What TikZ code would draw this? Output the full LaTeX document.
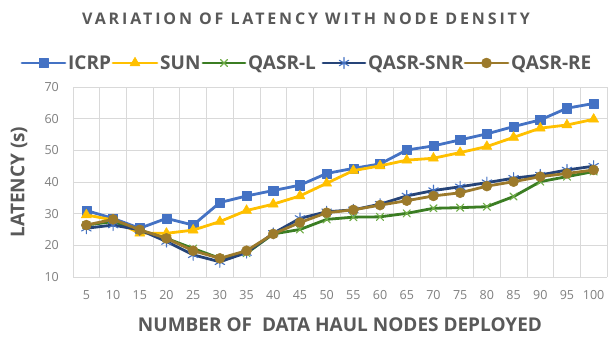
\documentclass[tikz,border=0pt]{standalone}
\usepackage{fontspec}
\setmainfont{Open Sans}
\newfontfamily\titlefont[LetterSpace=18]{Open Sans}
\usetikzlibrary{plotmarks}
\definecolor{icrp}{HTML}{4472C4}
\definecolor{sun}{HTML}{FFC000}
\definecolor{qlline}{HTML}{3B7D23}
\definecolor{qlmark}{HTML}{70AD47}
\definecolor{snrline}{HTML}{264478}
\definecolor{snrmark}{HTML}{4472C4}
\definecolor{reline}{HTML}{9C7A2B}
\definecolor{gridc}{HTML}{D9D9D9}
\definecolor{txtdark}{HTML}{595959}
\definecolor{txtlight}{HTML}{7F7F7F}
\tikzset{
  gridline/.style={draw=gridc, line width=0.8pt},
  ticklab/.style={font=\fontsize{12.5}{14}\selectfont, text=txtlight, inner sep=0pt},
  axtitle/.style={font=\fontsize{19}{22}\selectfont\bfseries, text=txtdark, inner sep=0pt},
  legtext/.style={font=\fontsize{19}{22}\selectfont\bfseries, text=txtdark, inner sep=0pt, anchor=base west},
  serie/.style={line width=2.8pt, line join=round, line cap=round},
  sicrp/.style={serie, draw=icrp, mark=square*, mark size=4.6pt, mark options={solid, fill=icrp, draw=icrp, line width=0.5pt}},
  ssun/.style={serie, draw=sun, mark=triangle*, mark size=5.8pt, mark options={solid, fill=sun, draw=sun, line width=0.5pt}},
  sql/.style={serie, draw=qlline, mark=x, mark size=5pt, mark options={solid, draw=qlmark, line width=1.1pt}},
  ssnr/.style={serie, draw=snrline, mark=asterisk, mark size=5.5pt, mark options={solid, draw=snrmark, line width=1.1pt}},
  sre/.style={serie, draw=reline, mark=*, mark size=5pt, mark options={solid, fill=reline, draw=reline, line width=0.5pt}},
}
\begin{document}
\begin{tikzpicture}[x=1pt,y=1pt]
\useasboundingbox (0,0) rectangle (613,338);
\fill[white] (0,0) rectangle (613,338);
% title
\node[font=\fontsize{16}{19}\selectfont\titlefont\bfseries, text=txtdark, anchor=base, inner sep=0pt] (title) at (306,313) {VARIATION OF LATENCY WITH NODE DENSITY};
% legend
\coordinate (l1a) at (22,275); \coordinate (l1b) at (65,275); \coordinate (l1m) at (43.5,275);
\draw[sicrp] (l1a) -- (l1b); \draw[sicrp] plot coordinates {(l1m)};
\node[legtext] (t1) at (68,268) {ICRP};
\coordinate (l2a) at (113,275); \coordinate (l2b) at (157,275); \coordinate (l2m) at (135,275);
\draw[ssun] (l2a) -- (l2b); \draw[ssun] plot coordinates {(l2m)};
\node[legtext] (t2) at (160,268) {SUN};
\coordinate (l3a) at (203,275); \coordinate (l3b) at (245,275); \coordinate (l3m) at (224,275);
\draw[sql] (l3a) -- (l3b); \draw[sql] plot coordinates {(l3m)};
\node[legtext] (t3) at (248,268) {QASR-L};
\coordinate (l4a) at (323,275); \coordinate (l4b) at (365,275); \coordinate (l4m) at (344,275);
\draw[ssnr] (l4a) -- (l4b); \draw[ssnr] plot coordinates {(l4m)};
\node[legtext] (t4) at (368,268) {QASR-SNR};
\coordinate (l5a) at (465,275); \coordinate (l5b) at (508,275); \coordinate (l5m) at (486.5,275);
\draw[sre] (l5a) -- (l5b); \draw[sre] plot coordinates {(l5m)};
\node[legtext] (t5) at (511,268) {QASR-RE};
% axis titles
\node[axtitle] (xt) at (340,13) {NUMBER OF \ DATA HAUL NODES DEPLOYED};
\node[axtitle, rotate=90] (yt) at (19,156) {LATENCY (s)};
\begin{scope}[x=26.7pt, y=3.1667pt, shift={(59.65pt,29.33pt)}]
  \foreach \v in {10,20,...,70} {
    \draw[gridline] (0.5,\v) -- (20.5,\v);
    \node[ticklab, anchor=east] (y\v) at ([xshift=-14pt]0.5,\v) {\v};
  }
  \foreach \i in {0,...,20} { \draw[gridline] (\i+0.5,10) -- (\i+0.5,70); }
  \foreach \i [evaluate=\i as \lab using int(5*\i)] in {1,...,20} {
    \node[ticklab] (x\i) at ([yshift=-18pt]\i,10) {\lab};
  }
  \draw[sicrp] plot coordinates {(1,31) (2,28.5) (3,25.4) (4,28.5) (5,26.4) (6,33.5) (7,35.6) (8,37.3) (9,39) (10,42.7) (11,44.3) (12,45.7) (13,50.1) (14,51.4) (15,53.3) (16,55.2) (17,57.5) (18,59.6) (19,63.3) (20,64.8)};
  \draw[ssun] plot coordinates {(1,29.6) (2,28) (3,23.8) (4,23.8) (5,24.8) (6,27.5) (7,31) (8,33) (9,35.6) (10,39.6) (11,43.6) (12,45.1) (13,46.9) (14,47.5) (15,49.3) (16,51.2) (17,54.1) (18,57) (19,58) (20,59.8)};
  \draw[sql] plot coordinates {(1,26.4) (2,27.5) (3,24.8) (4,22.2) (5,19) (6,15.9) (7,17.5) (8,23.6) (9,25) (10,28.2) (11,28.9) (12,29) (13,30.1) (14,31.7) (15,31.9) (16,32.2) (17,35.4) (18,40.1) (19,41.7) (20,43.3)};
  \draw[ssnr] plot coordinates {(1,25.4) (2,26.4) (3,24.9) (4,21.2) (5,17) (6,14.8) (7,17.7) (8,23.8) (9,28.5) (10,30.6) (11,31.2) (12,33) (13,35.6) (14,37.3) (15,38.5) (16,39.8) (17,41.2) (18,42.2) (19,43.8) (20,45)};
  \draw[sre] plot coordinates {(1,26.4) (2,28.2) (3,24.9) (4,22.2) (5,18.3) (6,15.9) (7,18.3) (8,23.6) (9,27.2) (10,30.3) (11,31.2) (12,32.7) (13,34.1) (14,35.6) (15,36.6) (16,38.7) (17,40.1) (18,41.7) (19,42.7) (20,43.8)};
\end{scope}
\end{tikzpicture}
\end{document}
